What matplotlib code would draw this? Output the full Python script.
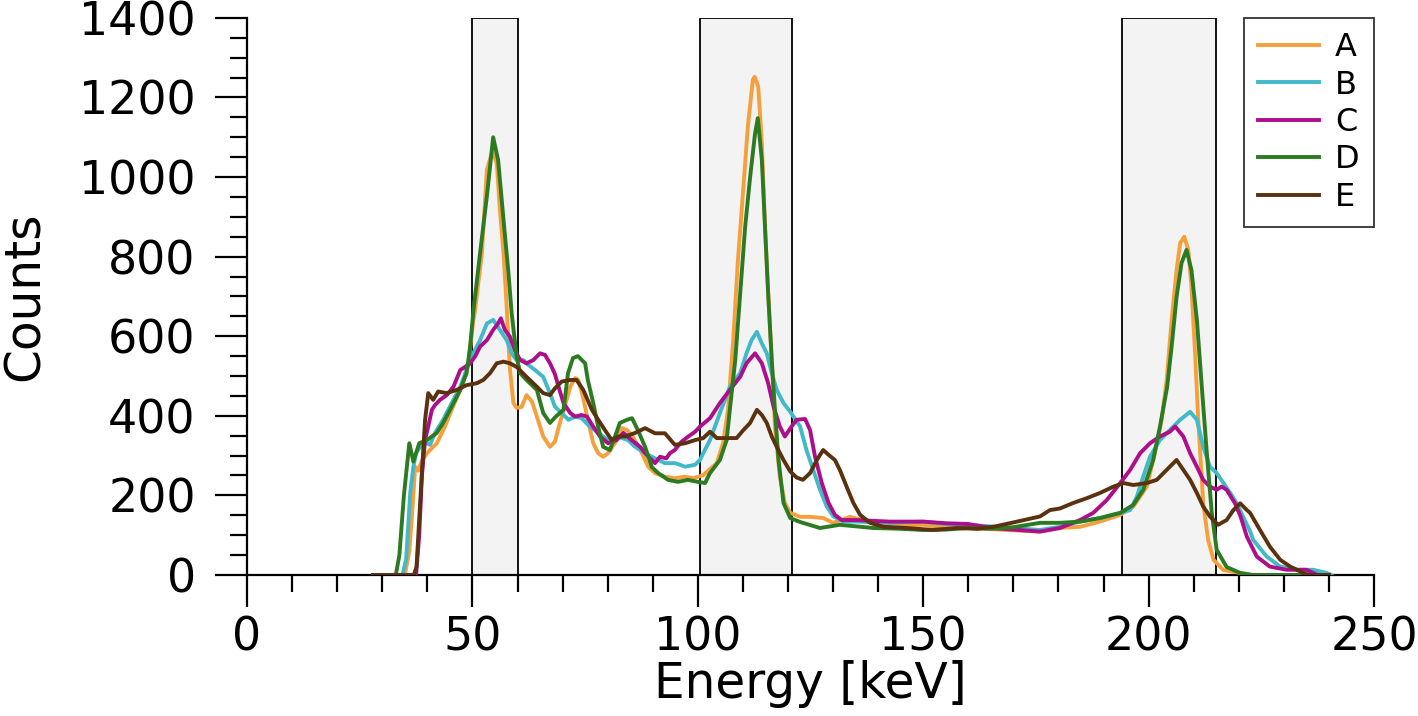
import matplotlib
matplotlib.use('Agg')
import matplotlib.pyplot as plt
from matplotlib.ticker import MultipleLocator

# spectra (energy in keV, counts)
a_e = [28, 35, 36.0, 36.6, 37.3, 38.0, 38.7, 39.9, 42.1, 43.9, 45.4, 47.3, 49.1, 50.2, 50.6, 52.1, 53.2, 54.4, 55.4, 56.1,
       56.9, 57.6, 58.3, 59.1, 59.8, 60.9, 62.0, 63.2, 64.3, 65.7, 67.2, 68.3, 69.4, 70.5, 71.7, 72.8, 73.5, 74.5, 75.6, 76.8,
       77.9, 79.0, 80.1, 81.6, 83.2, 84.3, 85.6, 87.6, 89.0, 90.5, 92.7, 94.9, 97.0, 99.0, 101.2, 104.2, 105.6, 106.7, 107.8, 108.9,
       110.0, 111.1, 112.2, 112.6, 113.4, 114.2, 114.9, 115.6, 116.4, 117.1, 118.2, 119.3, 120.5, 122.7, 124.9, 127.8, 130.0, 133.8, 138.9, 145,
       150, 155, 160, 165, 170, 175.9, 180.3, 184.8, 189.2, 193.7, 196.6, 199.6, 201.4, 202.9, 204.0, 205.1, 206.2, 207.0, 207.9, 208.8,
       209.5, 210.3, 211.0, 212.1, 213.2, 214.4, 216.6, 220.3, 223, 240]
a_c = [0, 0, 60, 150, 272, 262, 285, 306, 331, 373, 415, 465, 532, 640, 666, 809, 1018, 1064, 1035, 917,
       809, 674, 520, 432, 420, 422, 452, 436, 398, 348, 322, 335, 382, 423, 473, 495, 490, 448, 390, 331,
       306, 297, 306, 331, 369, 364, 347, 306, 272, 256, 247, 243, 247, 243, 251, 281, 331, 415, 582, 792,
       959, 1127, 1244, 1252, 1227, 1085, 875, 708, 540, 372, 247, 181, 156, 146, 146, 143, 131, 146, 131, 125,
       126, 120, 118, 115, 112, 109, 118, 121, 134, 151, 172, 222, 306, 390, 490, 641, 766, 834, 850, 817,
       724, 557, 390, 181, 88, 38, 12, 5, 0, 0]

b_e = [28, 34.5, 35.3, 36.2, 36.9, 37.5, 38.4, 39.9, 40.6, 41.7, 43.5, 45.4, 47.3, 48.7, 50.2, 51.7, 53.2, 54.6, 56.1, 57.6,
       58.7, 59.8, 61.3, 62.4, 63.9, 65.7, 67.2, 68.3, 69.8, 71.3, 72.8, 74.2, 75.7, 77.9, 80.1, 82.4, 84.5, 86.1, 88.3, 90.5,
       92.7, 95.0, 97.2, 99.4, 100.5, 101.2, 102.7, 104.9, 107.1, 109.4, 110.8, 111.9, 113.1, 114.2, 115.3, 116.4, 117.5, 119.0, 120.5, 121.7,
       122.7, 124.1, 125.6, 127.1, 128.6, 130.1, 132.3, 135.2, 142.6, 150, 155, 160, 165, 170, 175.9, 180.3, 184.8, 189.2, 193.7, 195.9,
       197.4, 198.8, 200.3, 202.5, 204.7, 207.0, 209.2, 210.7, 212.1, 213.6, 215.1, 216.6, 218.1, 219.5, 221.0, 222.5, 223.2, 226.2, 229.2, 232.9,
       236.5, 239.5, 240.5]
b_c = [0, 0, 40, 206, 272, 306, 322, 331, 327, 357, 390, 432, 473, 515, 557, 590, 632, 641, 616, 590,
       557, 540, 540, 528, 515, 498, 457, 423, 407, 390, 398, 394, 377, 357, 339, 347, 339, 322, 306, 293,
       281, 281, 272, 277, 289, 306, 339, 407, 473, 507, 557, 590, 611, 582, 557, 507, 465, 432, 410, 390,
       373, 314, 264, 214, 172, 147, 134, 134, 131, 134, 128, 126, 122, 118, 113, 121, 134, 143, 156, 163,
       197, 247, 297, 339, 364, 390, 410, 390, 322, 272, 256, 231, 206, 181, 145, 110, 88, 46, 21, 13,
       13, 5, 0]

c_e = [28, 37.5, 38.2, 38.8, 39.5, 40.2, 41.0, 41.7, 42.8, 44.3, 45.8, 47.3, 48.4, 49.5, 50.6, 51.7, 53.2, 54.6, 55.7, 56.3,
       57.2, 58.3, 59.4, 60.6, 62.0, 63.5, 65.0, 66.1, 67.2, 68.3, 69.1, 70.2, 71.7, 72.8, 74.2, 75.4, 76.8, 78.3, 80.1, 82.0,
       83.5, 85.3, 87.2, 89.0, 90.5, 91.6, 93.0, 93.8, 94.9, 96.4, 97.9, 99.4, 100.5, 102.7, 104.9, 107.1, 109.4, 110.8, 112.7, 114.2,
       115.6, 116.8, 118.2, 119.3, 120.8, 121.9, 123.8, 124.9, 126.0, 127.5, 129.0, 130.4, 131.9, 135.2, 142.6, 150, 155, 160, 165, 170,
       175.9, 180.3, 184.8, 187.7, 190.7, 193.7, 195.9, 198.1, 200.3, 202.5, 204.7, 205.9, 207.7, 209.2, 210.7, 212.1, 213.6, 215.1, 216.2, 217.3,
       219.1, 220.3, 221.8, 224.0, 226.9, 230.6, 235.0, 236.5, 237.5, 240]
c_c = [0, 0, 100, 250, 340, 373, 415, 427, 440, 452, 473, 515, 523, 532, 549, 574, 590, 616, 632, 645,
       616, 599, 565, 540, 532, 540, 557, 553, 532, 505, 473, 432, 407, 398, 402, 398, 373, 348, 331, 339,
       357, 339, 322, 297, 281, 297, 293, 306, 314, 335, 348, 360, 373, 394, 432, 465, 498, 532, 557, 532,
       482, 423, 373, 348, 373, 390, 392, 364, 297, 231, 181, 151, 138, 138, 134, 134, 130, 128, 118, 114,
       109, 118, 138, 156, 188, 231, 264, 306, 331, 348, 360, 373, 348, 306, 272, 239, 222, 214, 222, 214,
       181, 150, 96, 46, 21, 13, 13, 5, 0, 0]

d_e = [28, 33.0, 33.8, 34.8, 36.0, 36.9, 38.2, 39.9, 42.1, 43.5, 45.4, 47.3, 48.7, 49.5, 50.2, 51.7, 53.2, 54.6, 55.7, 56.9,
       58.0, 58.7, 59.8, 60.6, 62.0, 64.3, 65.7, 67.2, 68.5, 70.2, 71.2, 72.3, 73.4, 75.0, 75.6, 76.8, 77.9, 79.0, 80.5, 81.6,
       82.7, 84.3, 85.4, 86.7, 88.3, 89.8, 91.2, 93.4, 95.6, 97.8, 100.0, 101.6, 102.7, 104.9, 106.4, 107.1, 108.3, 109.4, 110.5, 111.6,
       112.7, 113.3, 114.2, 114.9, 115.6, 116.4, 117.1, 117.9, 119.0, 120.5, 122.7, 127.1, 131.5, 138.9, 145, 150, 155, 160, 165, 170,
       175.9, 180.3, 184.8, 189.2, 193.7, 196.6, 198.8, 201.0, 202.5, 204.1, 205.1, 206.2, 207.3, 208.4, 209.5, 210.7, 211.8, 212.9, 214.0, 215.1,
       217.3, 220.3, 223, 240]
d_c = [0, 0, 50, 200, 331, 285, 331, 339, 357, 382, 423, 465, 507, 574, 662, 809, 951, 1100, 1043, 892,
       758, 658, 549, 507, 490, 465, 407, 382, 398, 415, 507, 545, 550, 532, 490, 432, 372, 322, 314, 347,
       382, 390, 394, 364, 322, 271, 256, 239, 234, 239, 234, 231, 256, 289, 339, 415, 540, 708, 875, 1000,
       1110, 1148, 1043, 875, 708, 540, 415, 289, 181, 143, 133, 118, 126, 118, 116, 113, 114, 118, 116, 120,
       131, 131, 134, 143, 156, 176, 214, 289, 372, 472, 574, 699, 784, 817, 766, 641, 472, 307, 156, 63,
       20, 5, 0, 0]

e_e = [28, 37.0, 37.6, 38.7, 39.5, 40.2, 41.3, 42.4, 44.3, 46.5, 48.7, 51.0, 52.4, 53.9, 55.4, 56.9, 58.3, 59.8, 62.0, 64.3,
       65.7, 67.2, 68.3, 69.8, 71.7, 73.1, 74.6, 76.5, 77.9, 79.4, 80.9, 82.4, 83.9, 86.1, 88.3, 90.5, 92.7, 94.9, 97.2, 99.4,
       101.2, 102.7, 104.2, 106.4, 108.6, 110.1, 111.6, 113.1, 114.2, 115.3, 116.4, 117.5, 119.0, 120.5, 121.9, 123.3, 124.9, 126.4, 127.8, 129.0,
       130.4, 131.5, 133.0, 134.5, 136.0, 138.2, 141.2, 146.3, 152.2, 157.5, 162, 166, 170, 175.9, 178.1, 180.3, 183.3, 186.3, 189.2, 192.2,
       194.4, 196.6, 199.6, 201.8, 203.3, 204.7, 206.2, 207.7, 209.2, 210.7, 212.1, 213.6, 215.4, 217.3, 218.8, 220.3, 221.8, 222.5, 224.7, 226.9,
       229.2, 231.4, 232.9, 234.3, 235.5, 240]
e_c = [0, 0, 20, 239, 390, 457, 440, 461, 457, 465, 477, 482, 490, 507, 532, 536, 532, 523, 498, 473,
       457, 452, 469, 486, 490, 490, 465, 415, 390, 364, 339, 348, 348, 357, 369, 356, 356, 327, 331, 339,
       344, 360, 344, 344, 344, 364, 382, 415, 402, 382, 348, 322, 289, 260, 245, 239, 256, 289, 314, 302,
       289, 264, 222, 181, 151, 131, 121, 118, 113, 118, 116, 122, 132, 147, 163, 167, 181, 193, 206, 222,
       231, 226, 231, 239, 256, 272, 289, 264, 239, 206, 172, 147, 126, 138, 163, 180, 163, 156, 113, 71,
       38, 21, 13, 5, 0, 0]

labels = ['A', 'B', 'C', 'D', 'E']
colors = ['#f5a03c', '#41b9c9', '#ad0e8c', '#2c7a22', '#5a3210']
windows = [(50, 60), (100.5, 121), (194, 215)]

fig = plt.figure(figsize=(14.18, 7.16), dpi=100)
ax = fig.add_axes([0.1742, 0.197, 0.7948, 0.778])

for lo, hi in windows:
    ax.axvspan(lo, hi, facecolor='#f3f3f3', edgecolor='black', linewidth=1.3, zorder=1)

series = [(a_e, a_c), (b_e, b_c), (c_e, c_c), (d_e, d_c), (e_e, e_c)]
for (x, y), lab, col in zip(series, labels, colors):
    ax.plot(x, y, color=col, linewidth=2.8, label=lab, zorder=3)

ax.set_xlim(0, 250)
ax.set_ylim(0, 1400)
ax.xaxis.set_major_locator(MultipleLocator(50))
ax.xaxis.set_minor_locator(MultipleLocator(10))
ax.yaxis.set_major_locator(MultipleLocator(200))
ax.yaxis.set_minor_locator(MultipleLocator(50))

for s in ['top', 'right']:
    ax.spines[s].set_visible(False)
for s in ['left', 'bottom']:
    ax.spines[s].set_linewidth(1.6)

ax.tick_params(which='major', direction='out', length=23, width=1.6, labelsize=33)
ax.tick_params(axis='y', which='major', pad=14)
ax.tick_params(axis='x', which='major', pad=6)
ax.tick_params(which='minor', direction='out', length=12, width=1.6)

ax.set_xlabel('Energy [keV]', fontsize=35, labelpad=0)
ax.set_ylabel('Counts', fontsize=35, labelpad=22)

leg = ax.legend(loc='upper right', fontsize=23, frameon=True, fancybox=False,
                borderaxespad=0, handlelength=1.9, handletextpad=0.5, labelspacing=0.2,
                borderpad=0.45)
leg.get_frame().set_edgecolor('black')
leg.get_frame().set_linewidth(1.3)

fig.savefig('out.png', dpi=100)
